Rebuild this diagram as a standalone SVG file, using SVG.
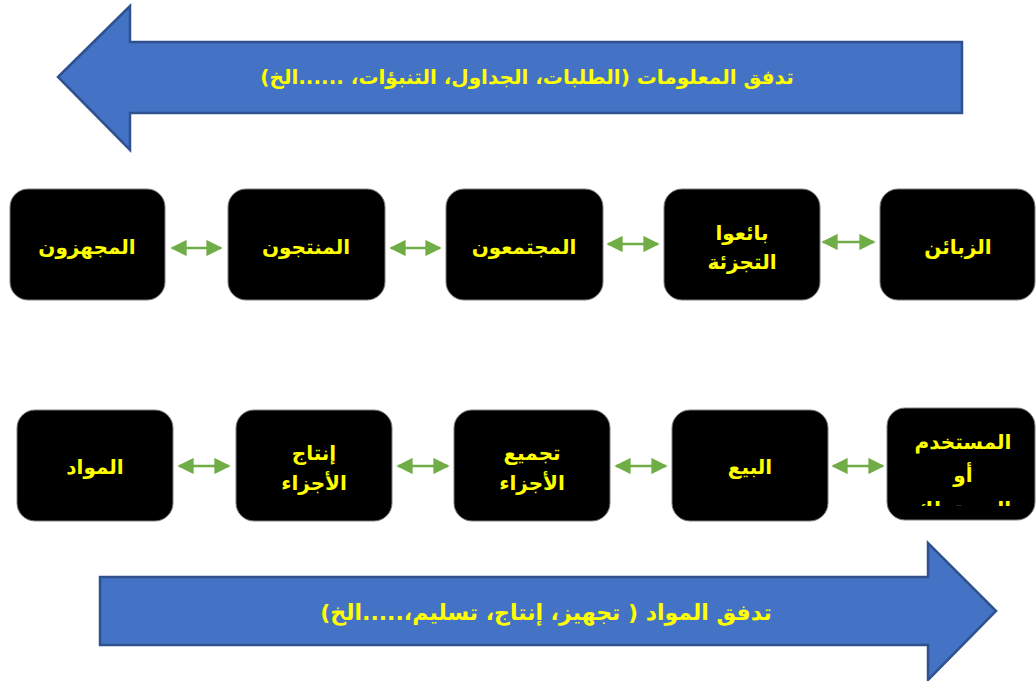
<svg xmlns="http://www.w3.org/2000/svg" width="1036" height="681" viewBox="0 0 1036 681">
<style>
.flow{fill:#4472C4;stroke:#2F528F;stroke-width:2.5;stroke-linejoin:miter}
.box{fill:#000;stroke:#7F7F7F;stroke-width:1}
.lbl{fill:#FFFF00;font-family:"DejaVu Sans",sans-serif;font-weight:bold;font-size:20px;text-anchor:middle;direction:rtl}
.flbl{fill:#FFFF00;font-family:"DejaVu Sans",sans-serif;font-weight:bold;text-anchor:middle;direction:rtl}
.con{stroke:#70AD47;stroke-width:2.5;fill:none;marker-start:url(#ah);marker-end:url(#ah)}
</style>
<defs>
<marker id="ah" viewBox="0 0 10 10" refX="9" refY="5" markerWidth="6.5" markerHeight="6.5" markerUnits="strokeWidth" orient="auto-start-reverse">
<path d="M0,0 L10,5 L0,10 z" fill="#70AD47"/>
</marker>
<clipPath id="clipU"><rect x="887" y="408" width="149" height="98"/></clipPath>
</defs>
<rect width="1036" height="681" fill="#fff"/>
<g id="info-flow">
<path class="flow" d="M58,77 L130,6 L130,42 L962,42 L962,113 L130,113 L130,150 Z"/>
<text class="flbl" x="527" y="84" font-size="20">تدفق المعلومات (الطلبات، الجداول، التنبؤات، ......الخ)</text>
</g>
<g id="material-flow">
<path class="flow" d="M996,611 L928,543 L928,577 L100,577 L100,645 L928,645 L928,680 Z"/>
<text class="flbl" x="546" y="620" font-size="22">تدفق المواد ( تجهيز، إنتاج، تسليم،.....الخ)</text>
</g>
<g id="n-suppliers"><rect class="box" x="10" y="189" width="155" height="111" rx="18"/><text class="lbl" x="87" y="254">المجهزون</text></g>
<g id="n-producers"><rect class="box" x="228" y="189" width="157" height="111" rx="18"/><text class="lbl" x="306" y="254">المنتجون</text></g>
<g id="n-assemblers"><rect class="box" x="446" y="189" width="157" height="111" rx="18"/><text class="lbl" x="524" y="254">المجتمعون</text></g>
<g id="n-retailers"><rect class="box" x="664" y="189" width="156" height="111" rx="18"/><text class="lbl" x="742" y="240">بائعوا</text><text class="lbl" x="742" y="269">التجزئة</text></g>
<g id="n-customers"><rect class="box" x="880" y="189" width="155" height="111" rx="18"/><text class="lbl" x="958" y="254">الزبائن</text></g>
<g id="n-materials"><rect class="box" x="17" y="410" width="156" height="111" rx="18"/><text class="lbl" x="95" y="474">المواد</text></g>
<g id="n-parts"><rect class="box" x="236" y="410" width="156" height="111" rx="18"/><text class="lbl" x="314" y="460">إنتاج</text><text class="lbl" x="314" y="490">الأجزاء</text></g>
<g id="n-assembly"><rect class="box" x="454" y="410" width="156" height="111" rx="18"/><text class="lbl" x="532" y="460">تجميع</text><text class="lbl" x="532" y="490">الأجزاء</text></g>
<g id="n-sales"><rect class="box" x="672" y="410" width="156" height="111" rx="18"/><text class="lbl" x="750" y="474">البيع</text></g>
<g id="n-user"><rect class="box" x="887" y="408" width="148" height="112" rx="18"/>
<g clip-path="url(#clipU)"><text class="lbl" x="963" y="449">المستخدم</text><text class="lbl" x="963" y="482">أو</text><text class="lbl" x="963" y="516">المستهلك</text></g></g>
<g id="connectors">
<line class="con" x1="172" y1="248" x2="221" y2="248"/>
<line class="con" x1="391" y1="248" x2="440" y2="248"/>
<line class="con" x1="608" y1="244" x2="658" y2="244"/>
<line class="con" x1="823" y1="242" x2="874" y2="242"/>
<line class="con" x1="179" y1="466" x2="229" y2="466"/>
<line class="con" x1="398" y1="466" x2="448" y2="466"/>
<line class="con" x1="616" y1="466" x2="666" y2="466"/>
<line class="con" x1="833" y1="466" x2="883" y2="466"/>
</g>
</svg>
